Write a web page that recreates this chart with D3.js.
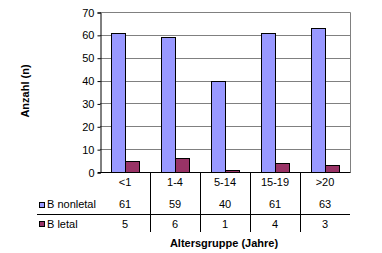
<!DOCTYPE html>
<html><head><meta charset="utf-8">
<script src="https://cdn.jsdelivr.net/npm/d3@7"></script>
<style>
html,body{margin:0;padding:0;background:#fff;}
svg text{font-family:"Liberation Sans",Arial,sans-serif;font-size:11px;fill:#000;}
</style></head><body>
<svg id="c" width="382" height="253"></svg>
<script>
const categories = ["<1","1-4","5-14","15-19",">20"];
const seriesNames = ["B nonletal","B letal"];
const nonletal = [61,59,40,61,63];
const letal = [5,6,1,4,3];
const yTicks = [0,10,20,30,40,50,60,70];
const colors = ["#9999FF","#993366"];
const values = [nonletal, letal];

const svg = d3.select("#c");
const L = 100, R = 350, T = 12.5, B = 172.5;
const x = d3.scaleBand().domain(categories).range([L, R]).paddingInner(0).paddingOuter(0);
const xs = d3.scaleBand().domain(seriesNames).range([11, 39]).padding(0);
const y = d3.scaleLinear().domain([0,70]).range([B, T]);

// gridlines
svg.append("g").selectAll("line").data(yTicks.filter(d=>d>0)).join("line")
  .attr("x1", L).attr("x2", R + 0.5)
  .attr("y1", d=>Math.round(y(d)-0.5)+0.5).attr("y2", d=>Math.round(y(d)-0.5)+0.5)
  .attr("stroke","#808080").attr("stroke-width",1);
// right border
svg.append("line").attr("x1",R+0.5).attr("x2",R+0.5).attr("y1",T).attr("y2",B)
  .attr("stroke","#808080");

// bars
const g = svg.append("g");
seriesNames.forEach((s,si)=>{
  g.selectAll(null).data(values[si]).join("rect")
    .attr("x",(d,i)=>x(categories[i]) + xs(s) + 0.5)
    .attr("width", xs.bandwidth())
    .attr("y", d=>Math.round(y(d)-0.5)+0.5)
    .attr("height", d=>B - (Math.round(y(d)-0.5)+0.5))
    .attr("fill", colors[si]).attr("stroke","#000").attr("stroke-width",1);
});

// y axis
const yAxis = d3.axisLeft(y).tickValues(yTicks).tickSize(3).tickPadding(3);
const ya = svg.append("g").attr("transform",`translate(${L+0.5},0)`).call(yAxis);
ya.select(".domain").attr("stroke","#000");
ya.selectAll(".tick line").attr("stroke","#000");
ya.selectAll("text").style("font-size","11px").attr("fill","#000");
// baseline
svg.append("line").attr("x1",L-2).attr("x2",R+0.5).attr("y1",B).attr("y2",B).attr("stroke","#000");

// data table
const rowCat = 186, row1 = 208, row2 = 228;
svg.append("g").selectAll("text").data(categories).join("text")
  .attr("x", d=>x(d)+x.bandwidth()/2).attr("y", rowCat).attr("text-anchor","middle").text(d=>d);
values.forEach((vals,si)=>{
  svg.append("g").selectAll("text").data(vals).join("text")
    .attr("x",(d,i)=>x(categories[i])+x.bandwidth()/2).attr("y", si===0?row1:row2)
    .attr("text-anchor","middle").text(d=>d);
});
// table lines
svg.append("g").selectAll("line").data(categories.slice(1)).join("line")
  .attr("x1",d=>x(d)+0.5).attr("x2",d=>x(d)+0.5).attr("y1",B).attr("y2",232)
  .attr("stroke","#000");
svg.append("line").attr("x1",37).attr("x2",R).attr("y1",214.5).attr("y2",214.5).attr("stroke","#000");

// legend keys
seriesNames.forEach((s,si)=>{
  svg.append("rect").attr("x",39.5).attr("y",(si===0?202.5:221.5)).attr("width",5).attr("height",5)
    .attr("fill",colors[si]).attr("stroke","#000");
  svg.append("text").attr("x",47).attr("y",si===0?row1:row2).text(s);
});

// axis titles
svg.append("text").attr("x",224).attr("y",247).attr("text-anchor","middle")
  .style("font-weight","bold").text("Altersgruppe (Jahre)");
svg.append("text").attr("transform","translate(29,91) rotate(-90)").attr("text-anchor","middle")
  .style("font-weight","bold").text("Anzahl (n)");
</script></body></html>
